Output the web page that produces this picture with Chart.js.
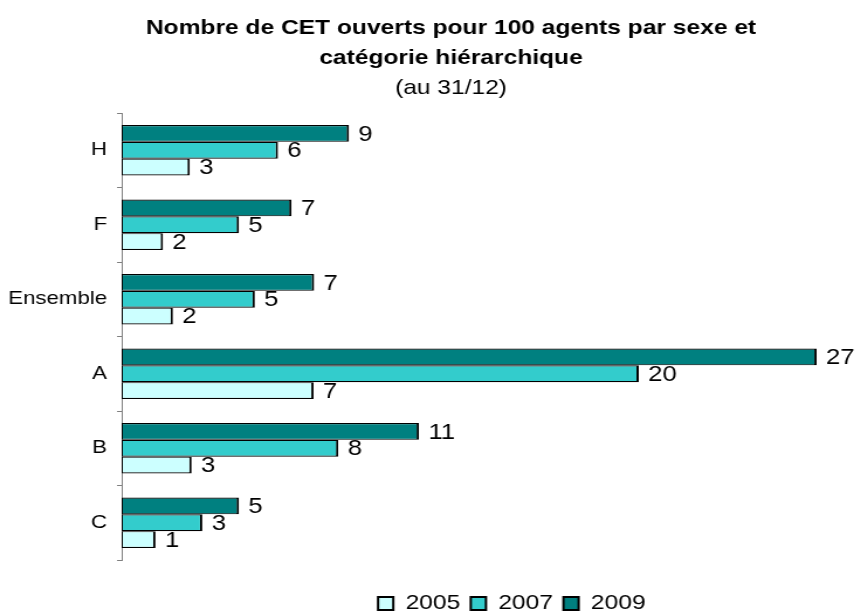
<!DOCTYPE html>
<html lang="fr">
<head>
<meta charset="utf-8">
<title>Nombre de CET ouverts pour 100 agents</title>
<script src="https://cdn.jsdelivr.net/npm/chart.js@4.4.1/dist/chart.umd.min.js"></script>
<style>
    html, body {
        margin: 0;
        padding: 0;
        background: #ffffff;
        overflow: hidden;
        width: 857px;
        height: 613px;
    }
</style>
</head>
<body>

<!-- the original picture is a bit stretched sideways: 771 px drawn, shown at 902 px -->
<canvas id="cetChart" width="771" height="624" style="display:block;width:902px;height:624px;"></canvas>

<script>

    /* ===============================
       données
    =============================== */

    const categories = ["H", "F", "Ensemble", "A", "B", "C"];

    const values2005 = [2.62, 1.59, 1.97, 7.38, 2.69, 1.30];
    const values2007 = [6.01, 4.51, 5.12, 19.88, 8.33, 3.10];
    const values2009 = [8.74, 6.53, 7.40, 26.72, 11.43, 4.51];

    const seriesLabels = ["2005", "2007", "2009"];

    const fontFamily = "'Liberation Sans', Arial, Helvetica, sans-serif";


    document.addEventListener("DOMContentLoaded", () => {

        /* ===============================
           étiquettes de valeurs
        =============================== */

        const valueLabels = {

            id: "valueLabels",

            afterDatasetsDraw(chart) {

                const ctx = chart.ctx;

                ctx.save();
                ctx.font = "22px " + fontFamily;
                ctx.fillStyle = "#000000";
                ctx.textAlign = "left";
                ctx.textBaseline = "middle";

                chart.data.datasets.forEach((ds, i) => {

                    const meta = chart.getDatasetMeta(i);

                    meta.data.forEach((bar, j) => {

                        // les valeurs sont arrondies à l'unité
                        ctx.fillText(String(Math.round(ds.data[j])), bar.x + 8, bar.y + 1);

                    });

                });

                ctx.restore();

            }

        };


        /* ===============================
           chart
        =============================== */

        const canvas = document.getElementById("cetChart");

        const barBorder = { top: 1.2, bottom: 1.2, right: 2, left: 1 };

        new Chart(canvas.getContext("2d"), {

            type: "bar",

            data: {

                labels: categories,

                // 2009 en haut de chaque groupe
                datasets: [
                    {
                        label: seriesLabels[2],
                        data: values2009,
                        backgroundColor: "#008080",
                        borderColor: "#000000",
                        borderWidth: barBorder,
                        borderSkipped: false
                    },
                    {
                        label: seriesLabels[1],
                        data: values2007,
                        backgroundColor: "#33CCCC",
                        borderColor: "#000000",
                        borderWidth: barBorder,
                        borderSkipped: false
                    },
                    {
                        label: seriesLabels[0],
                        data: values2005,
                        backgroundColor: "#CCFFFF",
                        borderColor: "#000000",
                        borderWidth: barBorder,
                        borderSkipped: false
                    }
                ]

            },

            options: {

                indexAxis: "y",
                responsive: false,
                devicePixelRatio: 1,
                animation: false,

                datasets: {
                    bar: {
                        categoryPercentage: 0.675,
                        barPercentage: 1
                    }
                },

                layout: {
                    padding: 0
                },

                scales: {

                    x: {
                        display: false,
                        min: 0,
                        max: 30
                    },

                    y: {
                        afterFit: (scale) => {
                            scale.width = 104;
                        },
                        grid: {
                            display: true,
                            drawOnChartArea: false,
                            drawTicks: true,
                            tickLength: 4,
                            color: "#808080",
                            offset: true
                        },
                        border: {
                            display: true,
                            color: "#808080",
                            width: 1
                        },
                        ticks: {
                            color: "#000000",
                            padding: 8.5,
                            font: { family: fontFamily, size: 19 }
                        }
                    }

                },

                plugins: {

                    title: {
                        display: true,
                        text: [
                            "Nombre de CET ouverts pour 100 agents par sexe et",
                            "catégorie hiérarchique"
                        ],
                        color: "#000000",
                        font: { family: fontFamily, size: 21, weight: "bold", lineHeight: 30 / 21 },
                        padding: { top: 13, bottom: 0 }
                    },

                    subtitle: {
                        display: true,
                        text: "(au 31/12)",
                        color: "#000000",
                        font: { family: fontFamily, size: 21, weight: "normal", lineHeight: 30 / 21 },
                        padding: { top: 0, bottom: 10 }
                    },

                    legend: {
                        display: true,
                        position: "bottom",
                        fullSize: false,
                        reverse: true,
                        // titre vide : sert seulement à descendre la légende
                        title: {
                            display: true,
                            text: " ",
                            padding: 0,
                            font: { family: fontFamily, size: 16, lineHeight: 1.5 }
                        },
                        labels: {
                            color: "#000000",
                            boxWidth: 13,
                            boxHeight: 13,
                            padding: 9,
                            font: { family: fontFamily, size: 21 },
                            generateLabels: (chart) => chart.data.datasets.map((ds, i) => ({
                                text: ds.label,
                                fillStyle: ds.backgroundColor,
                                strokeStyle: "#000000",
                                fontColor: "#000000",
                                lineWidth: 2,
                                hidden: false,
                                datasetIndex: i
                            }))
                        }
                    },

                    tooltip: {
                        enabled: false
                    }

                }

            },

            plugins: [valueLabels]

        });

    });

</script>
</body>
</html>
